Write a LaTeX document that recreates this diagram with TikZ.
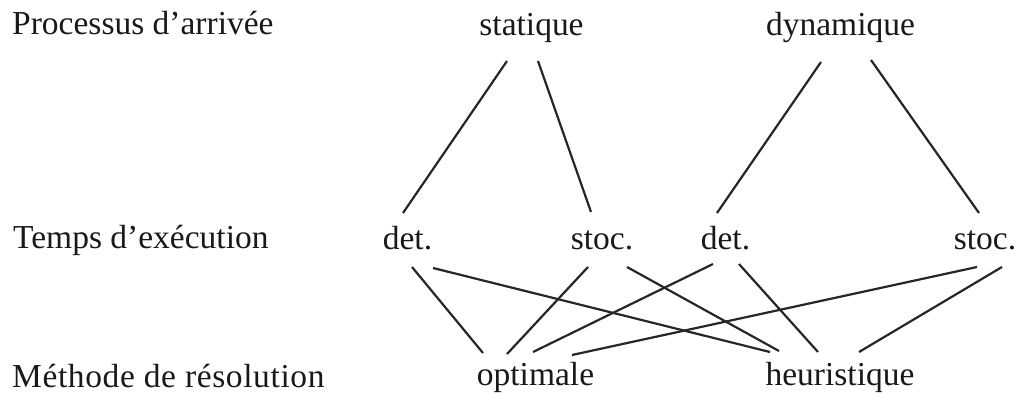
\documentclass[tikz,border=0pt]{standalone}
\usepackage{fontspec}
\setmainfont{Liberation Serif}
\newfontfamily\widefont[LetterSpace=1.8]{Liberation Serif}
\begin{document}
\begin{tikzpicture}[x=1pt,y=-1pt,
  lbl/.style={inner sep=0pt,anchor=base,font=\fontsize{33.5}{40}\selectfont,text=black!90},
  side/.style={lbl,anchor=base west},
  conn/.style={line width=2.2pt,draw=black!85}]
\useasboundingbox (0,0) rectangle (1021,397);
% row labels
\node[side] (r1) at (12,34) {Processus d’arrivée};
\node[side] (r2) at (13,248) {Temps d’exécution};
\node[side,font=\fontsize{33.5}{40}\widefont] (r3) at (12,387) {Méthode de résolution};
% nodes
\node[lbl] (stat) at (531.5,35) {statique};
\node[lbl] (dyn) at (840.5,35) {dynamique};
\node[lbl] (d1) at (407.5,249) {det.};
\node[lbl] (s1) at (602,249) {stoc.};
\node[lbl] (d2) at (725.5,249) {det.};
\node[lbl] (s2) at (985,249) {stoc.};
\node[lbl] (opt) at (535.5,385) {optimale};
\node[lbl] (heu) at (840,385) {heuristique};
% top connectors
\draw[conn] ([shift={(-24.5,26)}]stat.base) -- ([shift={(-4.5,-36)}]d1.base);
\draw[conn] ([shift={(6.5,26)}]stat.base) -- ([shift={(-11,-37)}]s1.base);
\draw[conn] ([shift={(-19.5,27)}]dyn.base) -- ([shift={(-8.5,-36)}]d2.base);
\draw[conn] ([shift={(30.5,25)}]dyn.base) -- ([shift={(-6,-36)}]s2.base);
% bottom connectors
\draw[conn] ([shift={(4.5,18)}]d1.base) -- ([shift={(-52.5,-32)}]opt.base);
\draw[conn] ([shift={(25.5,19)}]d1.base) -- ([shift={(-70,-33)}]heu.base);
\draw[conn] ([shift={(-14,18)}]s1.base) -- ([shift={(-28.5,-31)}]opt.base);
\draw[conn] ([shift={(25,18)}]s1.base) -- ([shift={(-61,-34)}]heu.base);
\draw[conn] ([shift={(-12.5,15)}]d2.base) -- ([shift={(-2.5,-33)}]opt.base);
\draw[conn] ([shift={(13.5,15)}]d2.base) -- ([shift={(-22,-33)}]heu.base);
\draw[conn] ([shift={(-8,18)}]s2.base) -- ([shift={(36.5,-30)}]opt.base);
\draw[conn] ([shift={(17,18)}]s2.base) -- ([shift={(19,-33)}]heu.base);
\end{tikzpicture}
\end{document}
